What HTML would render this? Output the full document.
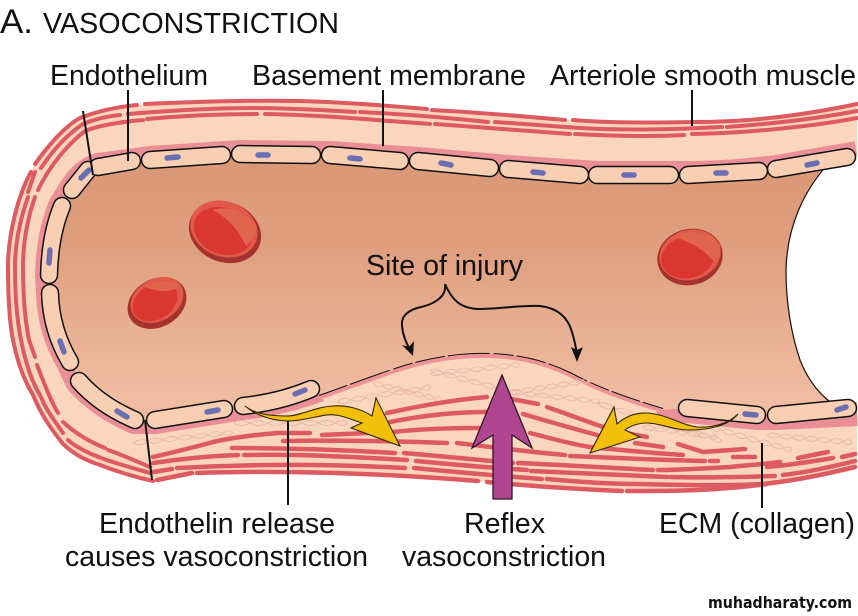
<!DOCTYPE html>
<html>
<head>
<meta charset="utf-8">
<style>
html,body{margin:0;padding:0;background:#fff;width:858px;height:616px;overflow:hidden}
svg{display:block}
text{font-family:"Liberation Sans",Arial,sans-serif;fill:#111}
</style>
</head>
<body>
<svg width="858" height="616" viewBox="0 0 858 616" xmlns="http://www.w3.org/2000/svg">
<defs>
<linearGradient id="lum" gradientUnits="userSpaceOnUse" x1="0" y1="165" x2="0" y2="400">
<stop offset="0" stop-color="#da9877"/><stop offset="0.35" stop-color="#df9f7f"/><stop offset="1" stop-color="#f0bda2"/>
</linearGradient>
<path id="ch" d="M0,0 q7.5,-5 15,0 t15,0 t15,0 t15,0 t15,0 t15,0 t10,0 M0,0 q7.5,5 15,0 t15,0 t15,0 t15,0 t15,0 t15,0 t10,0" fill="none" stroke="#e9b7aa" stroke-width="0.9"/>
</defs>

<!-- wall -->
<path d="M857,104 C790,118 740,122 693,122 C650,123 610,123 565,120 C520,116 470,112 427,109 C380,105 340,102 300,101 C250,100 190,102 137,105 C115,107 95,112 80,118 C65,126 47,147 34,166 C18,195 8,235 8,267 C8,295 9,320 13,340 C18,365 25,382 33,395 C40,412 48,425 63,444 C75,455 85,460 100,465 C118,472 135,477 153,481 C190,474 250,468 300,470 C350,472 390,474 430,477 C500,483 570,491 627,491 C680,491 730,490 763,484 C800,478 830,473 857,467 Z" fill="#fbd6bf"/>

<!-- basement membrane -->
<g fill="none" stroke="#ea8f95" stroke-linejoin="round" stroke-linecap="butt">
<path stroke-width="28" d="M857,155 L776,169 C740,173 720,175 688,175 L597,175 L508,169 L418,161 L330,155 L240,154 L150,160 L98,167 C88,170 80,178 72,190 L62,206 Q50,235 49,275 L50,293 Q51,330 70,362 L79,381 Q100,405 135,420 L155,420 L224,409 L243,406 Q280,402 319,388"/>
<path stroke-width="30" d="M657,407 L687,408 L757,415 L776,415 L857,411"/>
</g>

<!-- white opening at right -->
<path d="M858,155 L827,163 C805,190 787,225 786,270 C786,300 790,330 800,360 C808,380 820,395 835,404 L858,402 Z" fill="#fff"/>

<!-- lumen -->
<path d="M88,170 L98,167 L132,161 L150,160 L222,155 L240,154 L312,155 L330,155 L400,161 L418,161 L490,168 L508,169 L580,175 L597,175 L670,175 L688,175 L759,171 L776,169 L827,163 C805,190 787,225 786,270 C786,300 790,330 800,360 C808,380 820,395 835,408 L776,415 L757,415 L687,408 L663,410 C630,400 600,390 570,374 C545,362 520,356 490,355 C465,354 430,358 395,370 C365,380 345,388 319,397 L311,389 Q280,402 243,406 L224,409 L155,420 L135,420 Q100,405 79,381 L70,362 Q51,330 50,293 L49,275 Q50,235 62,206 L72,190 Z" fill="url(#lum)"/>
<path d="M827,165 C805,190 787,225 786,270 C786,300 790,330 800,360 C808,380 820,395 833,404" fill="none" stroke="#1a1008" stroke-width="1.2"/>

<!-- injury edge -->
<path d="M319,398 C345,389 365,381 395,371 C430,359 465,355 490,356 C520,357 545,363 570,375 C600,391 630,401 663,411" fill="none" stroke="#ee9496" stroke-width="4"/>
<path d="M319,395.5 C345,386.5 365,378.5 395,368.5 C430,356.5 465,352.5 490,353.5 C520,354.5 545,360.5 570,372.5 C600,388.5 630,398.5 663,408.5" fill="none" stroke="#111" stroke-width="1" stroke-dasharray="30 3 42 4 20 3"/>

<!-- collagen (behind fibres) -->
<g>
<use href="#ch" transform="translate(133,443) rotate(-6)"/>
<use href="#ch" transform="translate(233,423) scale(1.14,1)"/>
<use href="#ch" transform="translate(337,402) rotate(-9) scale(0.95,1)"/>
<use href="#ch" transform="translate(373,383) rotate(14) scale(0.7,1)"/>
<use href="#ch" transform="translate(430,374) rotate(-6) scale(0.9,1)"/>
<use href="#ch" transform="translate(430,370) rotate(15) scale(0.9,1)"/>
<use href="#ch" transform="translate(510,392) rotate(6) scale(0.9,1)"/>
<use href="#ch" transform="translate(510,393) rotate(-9) scale(0.8,1)"/>
<use href="#ch" transform="translate(597,403) rotate(17) scale(1.3,1)"/>
<use href="#ch" transform="translate(643,427) rotate(8) scale(0.75,1)"/>
<use href="#ch" transform="translate(710,427) rotate(16) scale(0.85,1)"/>
<use href="#ch" transform="translate(767,435) rotate(5) scale(0.85,1)"/>
</g>

<!-- muscle bands: outer -->
<g fill="none" stroke="#dd5a60" stroke-width="4" stroke-linecap="round" stroke-linejoin="round">
<path d="M857,104 C790,118 740,122 693,122 C650,123 610,123 573,120"/>
<path d="M565,120 C520,116 470,112 432,110"/>
<path d="M427,109 C380,105 340,102 300,101 C250,100 190,102 145,104"/>
<path d="M137,105 C115,107 95,112 80,118 C65,126 47,147 35,164"/>
<path d="M31,172 C18,195 8,235 8,267 C8,295 9,320 13,340 C18,365 25,382 33,395 C40,412 48,425 63,444 C75,455 85,460 100,465 C118,472 135,477 153,481"/>
<!-- middle -->
<path d="M857,111 C815,119 770,124 727,127"/>
<path d="M722,127 C680,129 630,131 580,128 C550,126 520,124 495,122"/>
<path d="M488,122 C450,118 400,114 360,112"/>
<path d="M355,112 C320,110 290,108 257,108 C210,108 165,111 128,114"/>
<path d="M120,115 C108,116 95,119 83,124 C68,134 53,150 41,168"/>
<path d="M35,172 L28,192"/>
<path d="M28,197 C20,220 15,245 15,267 C15,295 17,320 21,340 C26,365 32,382 40,395 C46,410 54,420 63,433"/>
<path d="M68,440 C85,455 115,463 150,473"/>
<!-- inner -->
<path d="M857,118 C815,126 750,133 692,134"/>
<path d="M684,135 C650,137 615,136 575,134"/>
<path d="M570,134 C525,131 480,127 435,124"/>
<path d="M430,124 C375,120 320,115 265,114"/>
<path d="M257,114 C220,114 180,116 147,119"/>
<path d="M143,120 C120,122 100,125 85,131 C68,144 50,165 38,190"/>
<path d="M35,197 C27,220 23,245 23,267 C23,295 25,320 29,340 L35,357"/>
<path d="M37,365 C43,380 50,400 58,413"/>
<path d="M63,422 C75,433 90,442 105,448"/>
<path d="M108,450 C125,456 138,462 150,467"/>
</g>

<!-- lower muscle fibres -->
<g fill="none" stroke="#dd5a60" stroke-width="4.5" stroke-linecap="round" stroke-linejoin="round">
<path d="M153,457 C175,452 195,447 213,442 C235,437 255,435 277,433 L310,433"/>
<path d="M322,435 C345,434 370,433 393,432 C420,429 450,428 480,428"/>
<path d="M283,441 C330,440 390,441 447,443"/>
<path d="M232,448 C290,448 345,450 395,453"/>
<path d="M404,453 C440,456 480,460 513,463"/>
<path d="M153,463 C180,459 210,456 238,455"/>
<path d="M244,455 C300,454 355,457 407,460"/>
<path d="M416,461 C450,464 490,468 527,470"/>
<path d="M153,472 L172,469"/>
<path d="M177,468 C250,464 330,464 405,468"/>
<path d="M414,468 C455,472 500,476 542,479"/>
<path d="M157,480 L192,473"/>
<path d="M197,473 C280,470 380,473 478,481"/>
<path d="M487,482 C530,486 575,489 622,491"/>
<path d="M387,413 C410,408 450,400 487,397"/>
<path d="M500,397 L538,404"/>
<path d="M547,407 L603,427"/>
<path d="M390,422 C420,416 450,412 487,412"/>
<path d="M523,414 C550,422 575,429 597,435"/>
<path d="M647,437 L615,431"/>
<path d="M530,433 C550,438 570,444 590,447 C620,450 650,453 683,455"/>
<path d="M635,443 L663,447"/>
<path d="M678,444 L703,452 L745,449"/>
<path d="M733,457 L755,457"/>
<path d="M798,458 L828,452"/>
<path d="M842,457 L855,454"/>
<path d="M457,443 C490,447 530,452 565,455"/>
<path d="M570,456 C615,458 660,460 705,461"/>
<path d="M710,461 L718,461"/>
<path d="M518,463 C565,465 610,468 653,470"/>
<path d="M658,470 C685,470 710,468 730,467 C750,465 765,464 780,462"/>
<path d="M767,467 C790,465 815,461 833,458"/>
<path d="M531,471 C580,473 625,475 667,477"/>
<path d="M670,477 C705,478 740,477 775,476"/>
<path d="M783,475 C810,472 835,466 855,461"/>
<path d="M547,479 C580,482 610,484 637,484 C680,485 725,486 763,484 C800,480 830,473 855,467"/>
<path d="M627,491 C650,491 675,491 697,490 C725,489 745,487 767,484"/>
</g>

<!-- endothelial cells -->
<g fill="none" stroke="#111" stroke-width="18.5" stroke-linecap="round" stroke-linejoin="round">
<path d="M98,167 L132,161"/><path d="M150,160 L222,155"/><path d="M240,154 L312,155"/><path d="M330,155 L400,161"/><path d="M418,161 L490,168"/><path d="M508,169 L580,175"/><path d="M597,175 L670,175"/><path d="M688,175 L759,171"/><path d="M776,169 L847,157"/>
<path d="M72,190 L88,170"/><path d="M62,206 Q50,235 49,275"/><path d="M50,293 Q51,330 70,362"/><path d="M79,381 Q100,405 135,420"/><path d="M155,420 L224,409"/><path d="M243,406 Q280,402 311,389"/><path d="M687,408 L757,415"/><path d="M776,415 L848,408"/>
</g>
<g fill="none" stroke="#f9cfb3" stroke-width="15.5" stroke-linecap="round" stroke-linejoin="round">
<path d="M98,167 L132,161"/><path d="M150,160 L222,155"/><path d="M240,154 L312,155"/><path d="M330,155 L400,161"/><path d="M418,161 L490,168"/><path d="M508,169 L580,175"/><path d="M597,175 L670,175"/><path d="M688,175 L759,171"/><path d="M776,169 L847,157"/>
<path d="M72,190 L88,170"/><path d="M62,206 Q50,235 49,275"/><path d="M50,293 Q51,330 70,362"/><path d="M79,381 Q100,405 135,420"/><path d="M155,420 L224,409"/><path d="M243,406 Q280,402 311,389"/><path d="M687,408 L757,415"/><path d="M776,415 L848,408"/>
</g>
<!-- nuclei -->
<g fill="none" stroke="#6a6fb4" stroke-width="5.5" stroke-linecap="round">
<path d="M167,158 L178,157"/><path d="M258,155 L268,155"/><path d="M350,158 L360,159"/><path d="M441,163 L451,165"/><path d="M533,172 L543,173"/><path d="M624,175 L634,175"/><path d="M716,173 L726,173"/><path d="M807,165 L817,163"/>
<path d="M81,178 L89,170"/><path d="M50,250 L49,263"/><path d="M60,341 L64,352"/><path d="M117,411 L127,417"/><path d="M207,412 L218,410"/><path d="M295,394 L305,390"/><path d="M745,414 L756,415"/><path d="M837,410 L846,407"/>
</g>

<!-- red cells -->
<g>
<ellipse cx="225" cy="232" rx="37" ry="30" transform="rotate(22 225 232)" fill="#a5322c"/>
<ellipse cx="224" cy="229" rx="34.5" ry="27.5" transform="rotate(22 224 229)" fill="#e2594a"/>
<ellipse cx="223" cy="231" rx="30" ry="23" transform="rotate(22 223 231)" fill="#d9372f"/>
<path d="M213,210 C228,205 248,212 256,226 C257,233 253,240 246,246 C240,232 228,218 213,210 Z" fill="#e0654c"/>
<ellipse cx="157" cy="303" rx="31" ry="24" transform="rotate(-30 157 303)" fill="#a5322c"/>
<ellipse cx="157" cy="300" rx="28" ry="21" transform="rotate(-30 157 300)" fill="#e2594a"/>
<ellipse cx="155" cy="302" rx="24" ry="17.5" transform="rotate(-30 155 302)" fill="#d9372f"/>
<path d="M145,287 C155,280 172,280 180,285 C175,292 160,293 145,287 Z" fill="#e0654c"/>
<ellipse cx="690" cy="257" rx="33" ry="28" transform="rotate(-15 690 257)" fill="#a5322c"/>
<ellipse cx="690" cy="255" rx="31" ry="25" transform="rotate(-15 690 255)" fill="#e2594a"/>
<ellipse cx="688" cy="257" rx="27" ry="21" transform="rotate(-15 688 257)" fill="#d9372f"/>
<path d="M675,237 C690,228 712,232 720,245 C722,252 719,258 714,262 C705,250 690,242 675,237 Z" fill="#e0654c"/>
</g>

<!-- leader lines -->
<g stroke="#111" stroke-width="2" fill="none">
<path d="M83,111 L93,175"/>
<path d="M128,90 L128,161"/>
<path d="M383,90 L383,146"/>
<path d="M692,90 L692,126"/>
<path d="M145,420 L152,480"/>
<path d="M288,418 L288,505"/>
<path d="M762,443 L762,508"/>
</g>

<!-- brace -->
<path d="M445,284 C447,298 432,305 417,308 C405,312 401,318 402,326 C403,336 406,342 410,350" fill="none" stroke="#111" stroke-width="2"/>
<path d="M445,284 C452,300 460,308 478,309 C500,309 520,305 540,306 C558,308 568,318 572,332 C575,342 576,348 577,354" fill="none" stroke="#111" stroke-width="2"/>
<path d="M413,356 L402,345 L409,347 L414,341 Z" fill="#111"/>
<path d="M577,362 L571,347 L577,350 L583,347 Z" fill="#111"/>

<!-- yellow arrows -->
<path d="M245,406 C258,417 275,421 290,421 C310,420 325,413 335,415 C345,416 352,420 362,423 L351,428 L400,446 L376,398 L372,416 C360,408 345,405 333,406 C315,407 300,416 287,416 C270,416 255,414 245,406 Z" fill="#f2bf0a" stroke="#2e2600" stroke-width="1.1" stroke-linejoin="miter"/>
<path d="M738,414 C728,426 708,430 690,430 C672,430 660,423 647,423 C638,423 630,426 625,430 L640,437 L590,453 L614,407 L617,424 C625,417 635,413 645,413 C665,413 680,425 697,427 C712,428 728,424 738,414 Z" fill="#f2bf0a" stroke="#2e2600" stroke-width="1.1" stroke-linejoin="miter"/>

<!-- purple arrow -->
<path d="M502,375 L532,448 L512,435 L512,499 L493,499 L493,435 L472,448 Z" fill="#b0468f" stroke="#2e1428" stroke-width="1.3"/>

<!-- text -->
<text x="0" y="33" font-size="34" textLength="33" lengthAdjust="spacingAndGlyphs">A.</text>
<text x="43" y="33" font-size="29" textLength="296" lengthAdjust="spacingAndGlyphs">VASOCONSTRICTION</text>
<text x="50" y="85" font-size="28.6" textLength="158" lengthAdjust="spacingAndGlyphs">Endothelium</text>
<text x="252" y="85" font-size="28.6" textLength="274" lengthAdjust="spacingAndGlyphs">Basement membrane</text>
<text x="550" y="85" font-size="28.6" textLength="306" lengthAdjust="spacingAndGlyphs">Arteriole smooth muscle</text>
<text x="366" y="275" font-size="28.6" textLength="157" lengthAdjust="spacingAndGlyphs">Site of injury</text>
<text x="99" y="533" font-size="28.6" textLength="236" lengthAdjust="spacingAndGlyphs">Endothelin release</text>
<text x="65" y="566" font-size="28.6" textLength="303" lengthAdjust="spacingAndGlyphs">causes vasoconstriction</text>
<text x="464" y="533" font-size="28.6" textLength="81" lengthAdjust="spacingAndGlyphs">Reflex</text>
<text x="402" y="566" font-size="28.6" textLength="204" lengthAdjust="spacingAndGlyphs">vasoconstriction</text>
<text x="659" y="533" font-size="28.6" textLength="196" lengthAdjust="spacingAndGlyphs">ECM (collagen)</text>
<text x="708" y="608" font-size="16" font-weight="700" textLength="144" lengthAdjust="spacingAndGlyphs" style="font-family:'DejaVu Sans',sans-serif">muhadharaty.com</text>
</svg>
</body>
</html>
